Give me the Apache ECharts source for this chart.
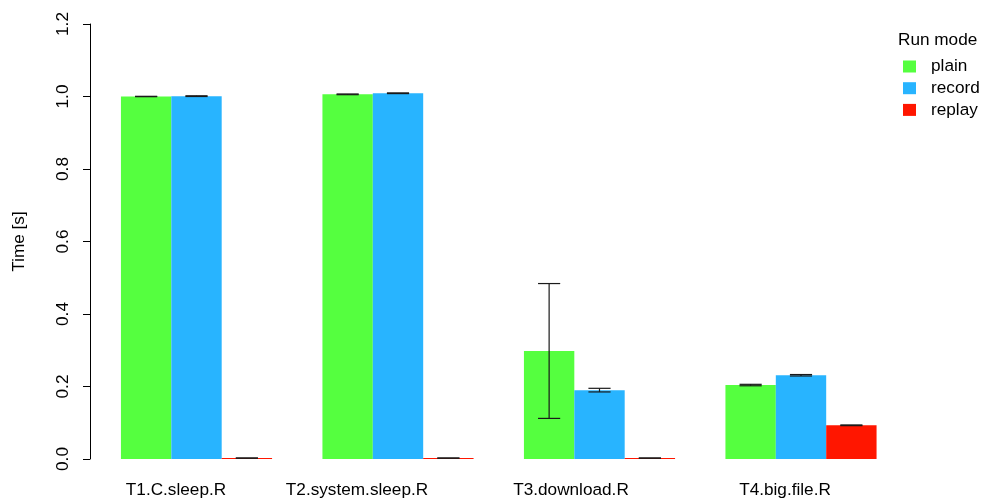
<!DOCTYPE html>
<html>
<head>
<meta charset="utf-8">
<script src="https://cdn.jsdelivr.net/npm/echarts@6/dist/echarts.min.js"></script>
<style>html,body{margin:0;padding:0;background:#fff}#c{width:981px;height:501px}</style>
</head>
<body>
<div id="c"></div>
<script>
var categories = ['T1.C.sleep.R', 'T2.system.sleep.R', 'T3.download.R', 'T4.big.file.R'];
var seriesNames = ['plain', 'record', 'replay'];
var plainMean = [1.000, 1.006, 0.298, 0.204];
var recordMean = [1.001, 1.009, 0.190, 0.231];
var replayMean = [0.0025, 0.0025, 0.0025, 0.093];
var plainErr = [0.0005, 0.001, 0.186, 0.002];
var recordErr = [0.001, 0.001, 0.005, 0.002];
var replayErr = [0.0003, 0.0003, 0.0003, 0.001];
var yTicks = [0, 0.2, 0.4, 0.6, 0.8, 1.0, 1.2];

var colors = ['#55FF3F', '#28B4FF', '#FF1600'];
var means = [plainMean, recordMean, replayMean];
var errs = [plainErr, recordErr, replayErr];
var labelShift = [41, 82, 57, 32];
var FONT = 'Liberation Sans, Arial, sans-serif';
var FS = 17.2;

var errData = [];
for (var s = 0; s < 3; s++) {
  for (var i = 0; i < categories.length; i++) {
    errData.push([i, means[s][i] - errs[s][i], means[s][i] + errs[s][i], s]);
  }
}

var rich = {};
labelShift.forEach(function (p, i) {
  rich['l' + i] = { fontSize: FS, fontFamily: FONT, color: '#000', padding: [0, p, 0, 0] };
});

var series = seriesNames.map(function (n, s) {
  return {
    name: n, type: 'bar', data: means[s], barWidth: '25%', barGap: '0%', barCategoryGap: '25%',
    itemStyle: { color: colors[s] }, emphasis: { disabled: true }, silent: true
  };
});
series.push({
  type: 'custom', silent: true, z: 10,
  data: errData,
  renderItem: function (params, api) {
    var idx = api.value(0), lo = api.value(1), hi = api.value(2), s = api.value(3);
    var band = api.size([1, 0])[0];
    var pLo = api.coord([idx, lo]);
    var pHi = api.coord([idx, hi]);
    var x = pLo[0] + (s - 1) * band / 4;
    var hw = band * 0.055;
    var st = { stroke: '#1a1a1a', lineWidth: 1.2 };
    return {
      type: 'group',
      children: [
        { type: 'line', shape: { x1: x, y1: pLo[1], x2: x, y2: pHi[1] }, style: st },
        { type: 'line', shape: { x1: x - hw, y1: pLo[1], x2: x + hw, y2: pLo[1] }, style: st },
        { type: 'line', shape: { x1: x - hw, y1: pHi[1], x2: x + hw, y2: pHi[1] }, style: st }
      ]
    };
  }
});

var chart = echarts.init(document.getElementById('c'));
chart.setOption({
  animation: false,
  backgroundColor: '#fff',
  textStyle: { fontFamily: FONT },
  title: {
    text: 'Run mode', left: 898, top: 32, padding: 0,
    textStyle: { fontSize: FS, fontWeight: 'normal', color: '#000', fontFamily: FONT }
  },
  legend: {
    data: seriesNames, orient: 'vertical', left: 903, top: 58, padding: 0,
    itemWidth: 13, itemHeight: 12, itemGap: 4.7, icon: 'rect',
    textStyle: { fontSize: FS, color: '#000', fontFamily: FONT, lineHeight: 16, padding: [0, 0, 0, 10] },
    selectedMode: false
  },
  grid: { left: 95.75, width: 806, top: 24, bottom: 42, containLabel: false },
  xAxis: {
    type: 'category', data: categories,
    axisLine: { show: false }, axisTick: { show: false }, splitLine: { show: false },
    axisLabel: {
      interval: 0, margin: 23,
      formatter: function (v, i) { return '{l' + i + '|' + v + '}'; },
      rich: rich
    }
  },
  yAxis: {
    type: 'value', min: yTicks[0], max: yTicks[yTicks.length - 1], interval: 0.2, offset: 5.75,
    name: 'Time [s]', nameLocation: 'middle', nameRotate: 90, nameGap: 62,
    nameTextStyle: { fontSize: FS, color: '#000', fontFamily: FONT },
    axisLine: { show: true, lineStyle: { color: '#000', width: 1 } },
    axisTick: { show: true, length: 7, lineStyle: { color: '#000' } },
    splitLine: { show: false },
    axisLabel: {
      rotate: 90, margin: 18, fontSize: FS, color: '#000', fontFamily: FONT,
      formatter: function (v) { return v.toFixed(1); }
    }
  },
  series: series
});
</script>
</body>
</html>
